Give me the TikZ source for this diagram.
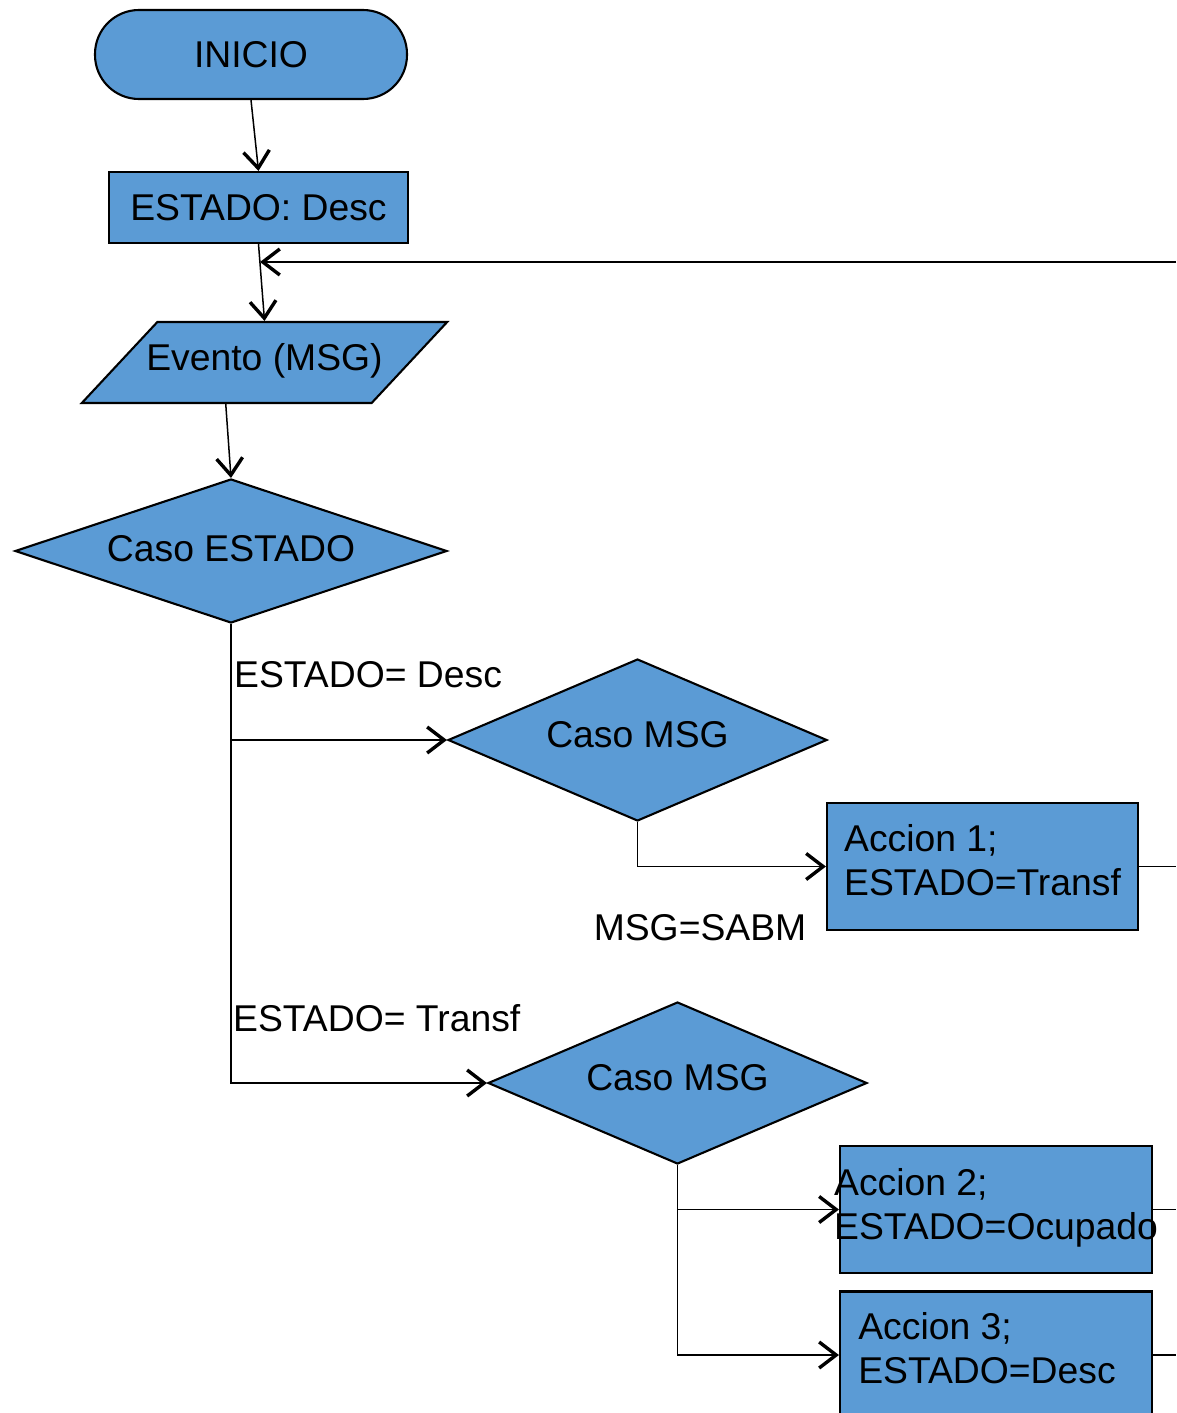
\documentclass[tikz,border=0pt]{standalone}
\usepackage{fontspec}
\setmainfont{Liberation Sans}
\usetikzlibrary{shapes.geometric,arrows.meta}
\definecolor{flujo}{RGB}{91,155,213}
\begin{document}
\begin{tikzpicture}[x=1pt, y=-1pt,
    every node/.style={font=\fontsize{37.3}{44}\selectfont},
    forma/.style={draw, line width=2.1pt, fill=flujo, inner sep=0pt},
    caja/.style={forma, rectangle, minimum width=312pt, minimum height=127pt},
    rombo/.style={forma, diamond, shape aspect=3, text depth=12pt, minimum width=379pt, minimum height=162pt},
    texto/.style={inner sep=0pt},
    linea/.style={line width=1.5pt},
    flecha/.style={linea, -{Straight Barb[length=17pt, width=26pt, line width=3.4pt]}}]
    \useasboundingbox (0,0) rectangle (1176,1413);
    \node[forma, rounded corners=44pt, minimum width=312pt, minimum height=89pt] (inicio) at (251,54.5) {INICIO};
    \node[forma, minimum width=299pt, minimum height=71pt] (estado) at (258.5,207.5) {ESTADO: Desc};
    \node[forma, trapezium, trapezium left angle=47, trapezium right angle=133, inner xsep=-11pt, inner ysep=26.5pt, text height=22pt, text depth=6pt] (evento) at (264.5,362.5) {Evento (MSG)};
    \node[rombo, text depth=6pt, minimum width=432pt, minimum height=144pt] (casoE) at (231,551) {Caso ESTADO};
    \node[rombo] (msgA) at (637.5,740) {Caso MSG};
    \node[rombo] (msgB) at (677.5,1083) {Caso MSG};
    \node[caja, minimum width=311pt] (accA) at (982.5,866.5) {};
    \node[caja] (accB) at (996,1209.5) {};
    \node[caja] (accC) at (996,1355) {};
    \node[texto, align=left] (txtA) at ([yshift=6pt]accA.center) {Accion 1;\\ESTADO=Transf};
    \node[texto, align=left] (txtB) at ([yshift=2pt]accB.center) {Accion 2;\\ESTADO=Ocupado};
    \node[texto, align=left] (txtC) at ([xshift=-9pt, yshift=7pt]accC.center) {Accion 3;\\ESTADO=Desc};
    \node[texto, anchor=west] (lblDesc) at (234,675) {ESTADO= Desc};
    \node[texto, anchor=west] (lblTransf) at (233,1018) {ESTADO= Transf};
    \node[texto] (lblSabm) at (700,928) {MSG=SABM};
    \coordinate (vuelta) at (1176,262);
    \coordinate (retorno) at (260,262);
    \coordinate (salidaA) at (1176,866.5);
    \coordinate (salidaB) at (1176,1209.5);
    \coordinate (salidaC) at (1176,1355);
    \draw[flecha] (inicio.south) -- (estado.north);
    \draw[flecha] (estado.south) -- (evento.north);
    \draw[flecha] (vuelta) -- (retorno);
    \draw[flecha] (evento.bottom side) -- (casoE.north);
    \draw[flecha] (casoE.south) |- (msgA.west);
    \draw[flecha] (casoE.south) |- (msgB.west);
    \draw[flecha] (msgA.south) |- (accA.west);
    \draw[flecha] (msgB.south) |- (accB.west);
    \draw[flecha] (msgB.south) |- (accC.west);
    \draw[linea] (accA.east) -- (salidaA);
    \draw[linea] (accB.east) -- (salidaB);
    \draw[linea] (accC.east) -- (salidaC);
\end{tikzpicture}
\end{document}
